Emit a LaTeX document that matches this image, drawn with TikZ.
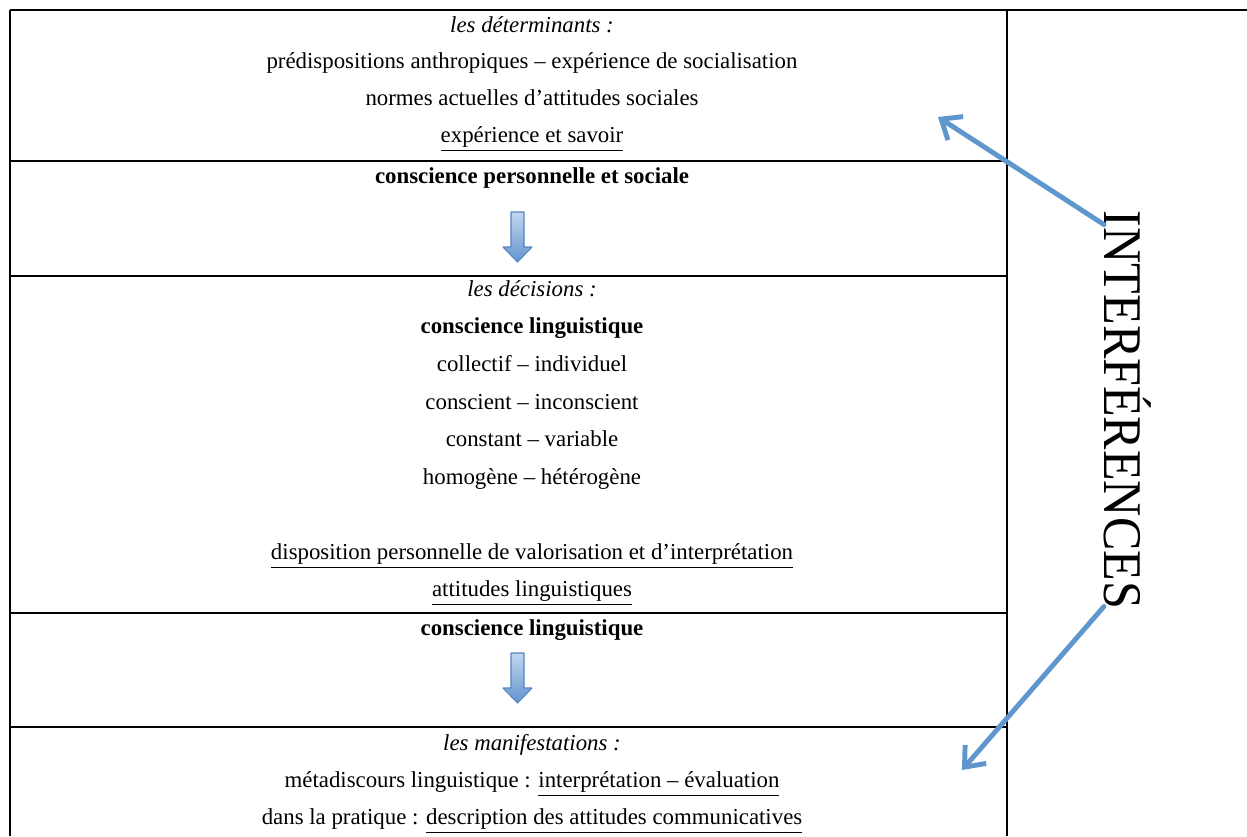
\documentclass[tikz,border=0pt]{standalone}
\usepackage{fontspec}
\setmainfont{Liberation Serif}
\usetikzlibrary{arrows.meta}

\definecolor{linkblue}{RGB}{95,150,205}
\definecolor{arrowtop}{RGB}{195,214,238}
\definecolor{arrowbot}{RGB}{98,148,208}
\definecolor{arrowedge}{RGB}{84,132,192}

\tikzset{
    rowtext/.style={anchor=base, inner sep=0pt, yshift=-1.1pt, font=\fontsize{13}{15}\selectfont},
    gridline/.style={line width=1.1pt},
    interlink/.style={draw=linkblue, line width=2.8pt, line cap=round, -{Straight Barb[length=3.4mm,width=5.6mm]}},
    blockarrow/.style={top color=arrowtop, bottom color=arrowbot, draw=arrowedge, line width=0.6pt, line join=round}
}

\begin{document}
\begin{tikzpicture}[x=0.02cm, y=-0.02cm]
    \useasboundingbox (0,0) rectangle (1247,836);

    % table rules
    \draw[gridline] (10,10) -- (1247,10);
    \draw[gridline] (10,10) -- (10,836);
    \draw[gridline] (1007,10) -- (1007,836);
    \foreach \y in {161,276,613,727}
        \draw[gridline] (10,\y) -- (1007,\y);

    % les determinants
    \node[rowtext] (det)  at (532,31)  {\itshape les déterminants :};
    \node[rowtext] (det1) at (532,67)  {prédispositions anthropiques – expérience de socialisation};
    \node[rowtext] (det2) at (532,104) {normes actuelles d’attitudes sociales};
    \node[rowtext] (det3) at (532,141) {\underline{expérience et savoir}};
    \node[rowtext] (cps)  at (532,182) {\bfseries conscience personnelle et sociale};

    % les decisions
    \node[rowtext] (dec)  at (532,295) {\itshape les décisions :};
    \node[rowtext] (dec1) at (532,332) {\bfseries conscience linguistique};
    \node[rowtext] (dec2) at (532,370) {collectif – individuel};
    \node[rowtext] (dec3) at (532,408) {conscient – inconscient};
    \node[rowtext] (dec4) at (532,445) {constant – variable};
    \node[rowtext] (dec5) at (532,483) {homogène – hétérogène};
    \node[rowtext] (dec6) at (532,558) {\underline{disposition personnelle de valorisation et d’interprétation}};
    \node[rowtext] (dec7) at (532,595) {\underline{attitudes linguistiques}};
    \node[rowtext] (cl)   at (532,634) {\bfseries conscience linguistique};

    % les manifestations
    \node[rowtext] (man)  at (532,749) {\itshape les manifestations :};
    \node[rowtext] (man1) at (532,786) {métadiscours linguistique : \underline{interprétation – évaluation}};
    \node[rowtext] (man2) at (532,823) {dans la pratique : \underline{description des attitudes communicatives}};

    % small down arrows
    \foreach \t in {212,653}
        \shade[blockarrow] (511,\t) -- (524,\t) -- (524,\t+35) -- (532,\t+35)
            -- (517.5,\t+50) -- (503,\t+35) -- (511,\t+35) -- cycle;

    % right column
    \node[anchor=base, inner sep=0pt, rotate=-90] (intf) at (1104,410)
        {\scalebox{0.92}[1]{\fontsize{31}{31}\selectfont INTERFÉRENCES}};
    \coordinate (tipup) at (938,117);
    \coordinate (tipdown) at (962,770);
    \draw[interlink] ([yshift=-0.28cm]intf.base west) -- (tipup);
    \draw[interlink] ([yshift=0.06cm]intf.base east) -- (tipdown);
\end{tikzpicture}
\end{document}
